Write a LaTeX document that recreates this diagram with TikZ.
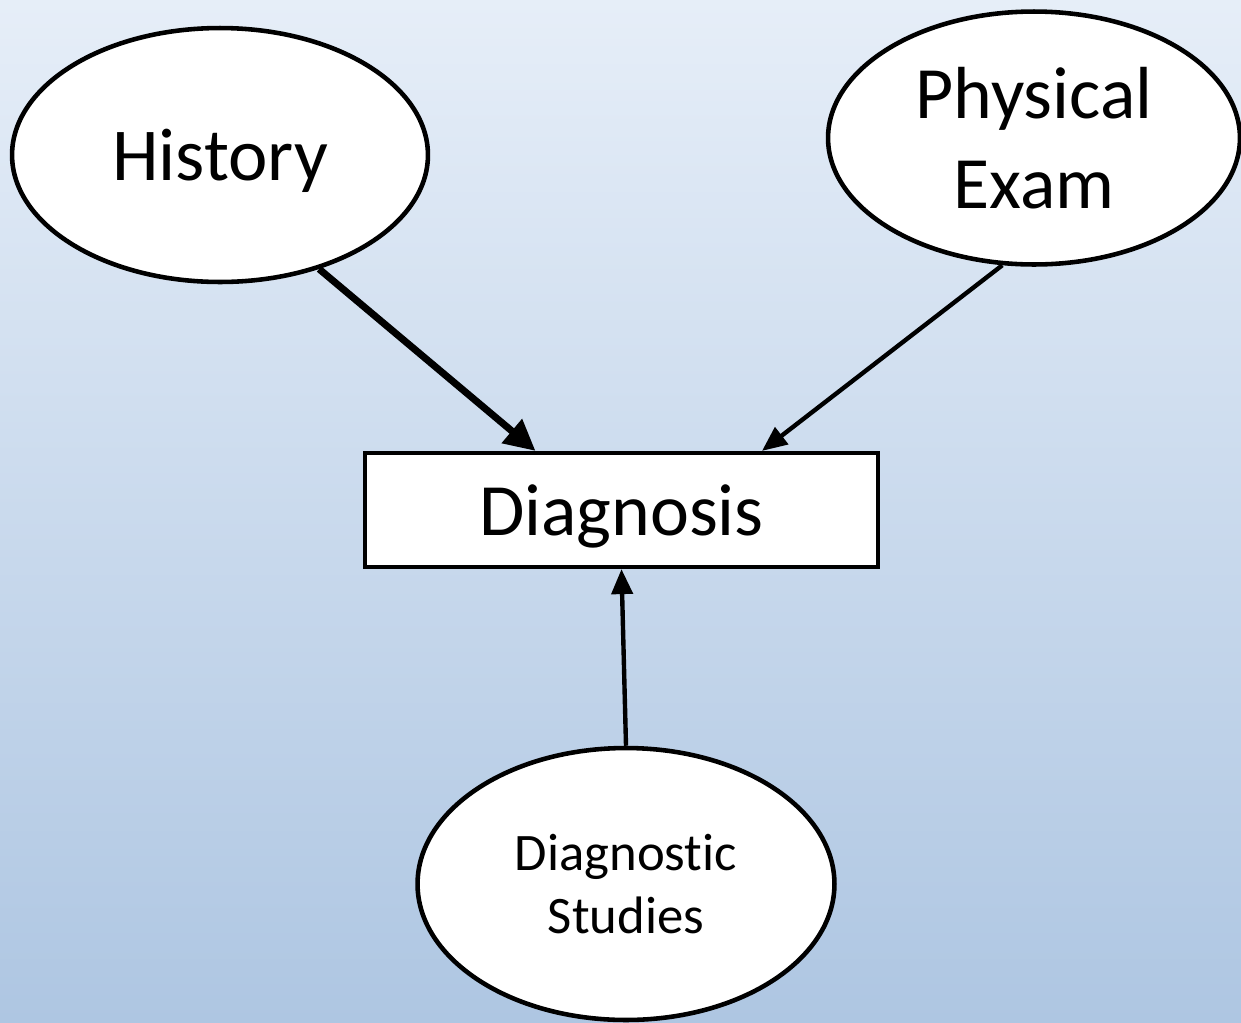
\documentclass[tikz,border=0pt]{standalone}
\usepackage{fontspec}
\setmainfont[RawFeature=-liga]{Carlito}
\usetikzlibrary{shapes.geometric,arrows.meta}
\definecolor{bgtop}{HTML}{E6EEF8}
\definecolor{bgbot}{HTML}{AEC6E2}

\begin{document}
\begin{tikzpicture}[x=0.02cm,y=-0.02cm]
	\tikzstyle{oval} = [ellipse,draw,fill=white,line width=2.6pt,inner sep=0pt,text depth=0pt]
	\tikzstyle{box} = [rectangle,draw,fill=white,line width=2.4pt,inner sep=0pt,text depth=0pt]
	\tikzstyle{link} = [line width=2.5pt,-{Triangle[length=0.5cm,width=0.42cm]}]

	\useasboundingbox (0,0) rectangle (1241,1022);
	\shade[top color=bgtop,bottom color=bgbot] (0,0) rectangle (1241,1022);

	\node[oval,minimum width=8.32cm,minimum height=5.08cm,font=\fontsize{42.5}{50}\selectfont] (hist) at (220,155) {History};
	\node[oval,minimum width=8.24cm,minimum height=5.06cm,font=\fontsize{42}{51}\selectfont,align=center] (phys) at (1034,138) {Physical\\Exam};
	\node[box,minimum width=10.26cm,minimum height=2.28cm,font=\fontsize{42}{50}\selectfont] (diag) at (621.5,510) {Diagnosis};
	\node[oval,minimum width=8.34cm,minimum height=5.44cm,font=\fontsize{30}{36}\selectfont,align=center] (stud) at (626,884) {Diagnostic\\Studies};

	\path (hist.-49) edge[link,line width=4pt,-{Triangle[length=0.62cm,width=0.6cm]}] ([xshift=-1.72cm]diag.north);
	\path (phys.256) edge[link] ([xshift=2.81cm]diag.north);
	\path (stud.north) edge[link] (diag.south);
\end{tikzpicture}
\end{document}
